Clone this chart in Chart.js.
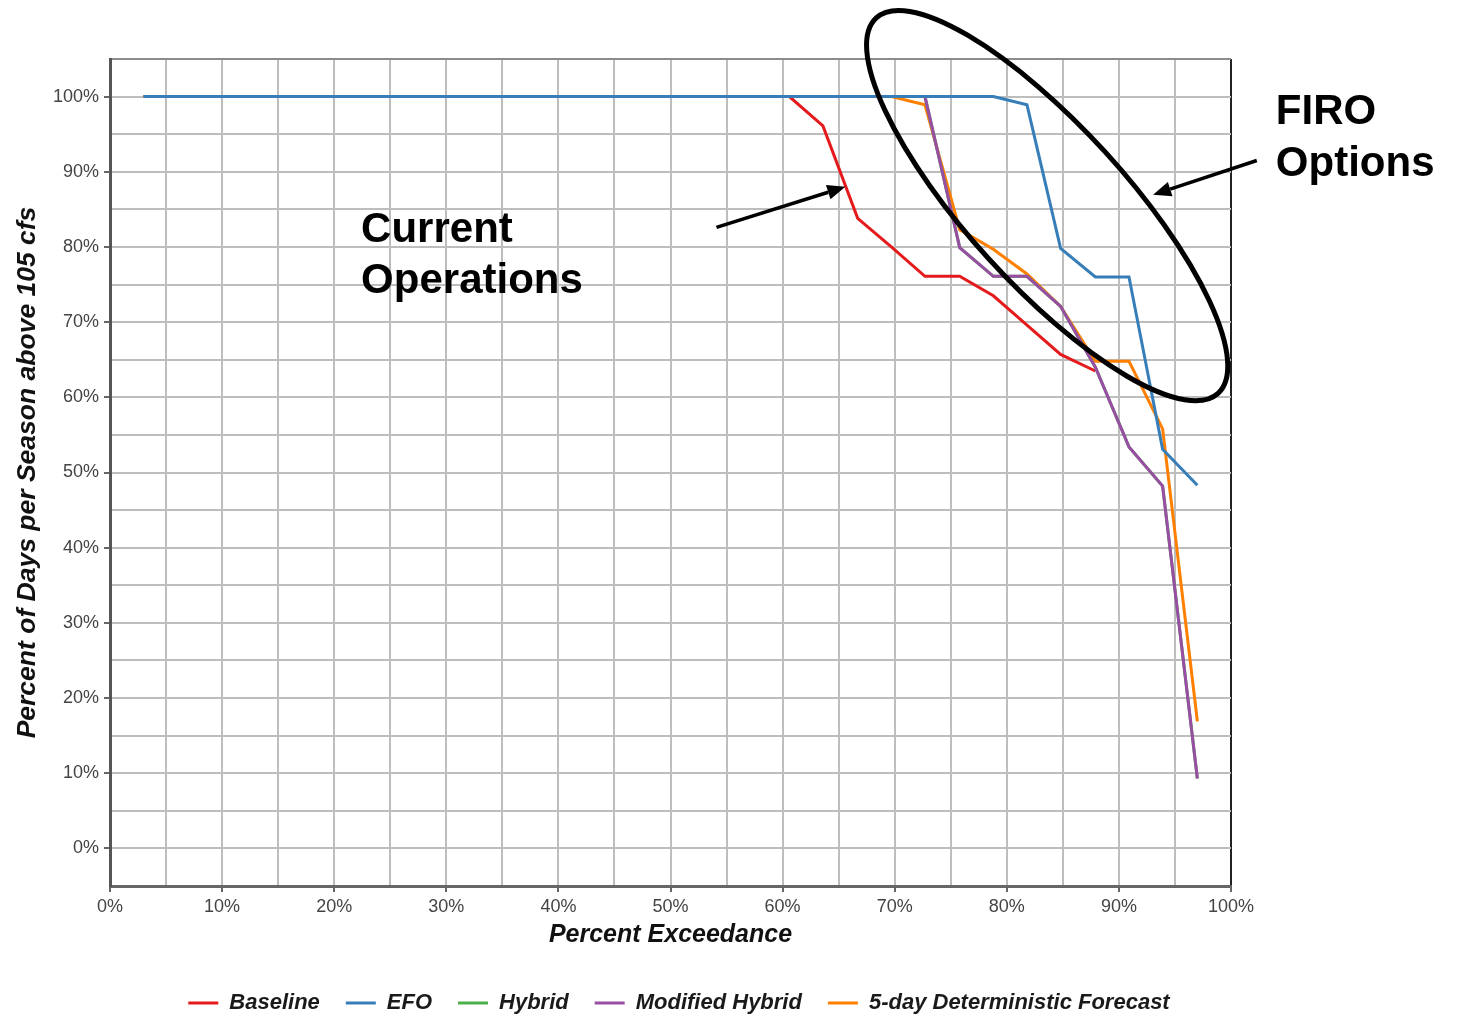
<!DOCTYPE html>
<html>
<head>
<meta charset="utf-8">
<script src="https://cdn.jsdelivr.net/npm/chart.js@4.4.1/dist/chart.umd.min.js"></script>
<style>
html,body{margin:0;padding:0;background:#fff;}
#wrap{width:1460px;height:1015px;position:relative;}
canvas{display:block;}
</style>
</head>
<body>
<div id="wrap"><canvas id="c" width="1460" height="1015"></canvas></div>
<script>
// ---- data ----
const exceedance = [3.0, 6.1, 9.1, 12.1, 15.2, 18.2, 21.2, 24.2, 27.3, 30.3, 33.3, 36.4, 39.4, 42.4, 45.5, 48.5,
                    51.5, 54.5, 57.6, 60.6, 63.6, 66.7, 69.7, 72.7, 75.8, 78.8, 81.8, 84.8, 87.9, 90.9, 93.9, 97.0];
const baseline = [100,100,100,100,100,100,100,100,100,100,100,100,100,100,100,100,
                  100,100,100,100, 96.1, 83.8, 80.0, 76.1, 76.1, 73.5, 69.6, 65.7, 63.5, null, null, null];
const efo      = [100,100,100,100,100,100,100,100,100,100,100,100,100,100,100,100,
                  100,100,100,100,100,100,100,100,100,100, 98.9, 79.8, 76.0, 76.0, 53.1, 48.3];
const hybrid   = [100,100,100,100,100,100,100,100,100,100,100,100,100,100,100,100,
                  100,100,100,100,100,100,100,100, 79.9, 76.1, 76.1, 72.1, 64.0, 53.4, 48.2, 9.3];
const modHybrid= [100,100,100,100,100,100,100,100,100,100,100,100,100,100,100,100,
                  100,100,100,100,100,100,100,100, 79.9, 76.1, 76.1, 72.1, 64.0, 53.4, 48.2, 9.3];
const fiveDay  = [100,100,100,100,100,100,100,100,100,100,100,100,100,100,100,100,
                  100,100,100,100,100,100,100, 98.9, 82.3, 79.7, 76.4, 72.1, 64.8, 64.8, 55.8, 16.9];
const seriesNames = ['Baseline', 'EFO', 'Hybrid', 'Modified Hybrid', '5-day Deterministic Forecast'];
const seriesColors = ['#e41a1c', '#377eb8', '#4daf4a', '#984ea3', '#ff7f00'];
const seriesValues = [baseline, efo, hybrid, modHybrid, fiveDay];
const drawOrder = [5, 1, 3, 2, 4];   // lower = drawn on top

// ---- annotations (in data units) ----
const annotEllipse = {x: 83.6, y: 85.5, rx: 22.65, ry: 7.05, angleDeg: 47.7};
const annotArrows = [
  {x1: 54.1, y1: 82.6, x2: 65.6, y2: 88.0},
  {x1: 102.3, y1: 91.5, x2: 93.05, y2: 86.95}
];
const annotTexts = [
  {x: 22.4, y: 80.7, text: 'Current'},
  {x: 22.4, y: 73.9, text: 'Operations'},
  {x: 104.0, y: 96.4, text: 'FIRO'},
  {x: 104.0, y: 89.5, text: 'Options'}
];

const FONT = '"Liberation Sans", Arial, Helvetica, sans-serif';

const datasets = seriesNames.map((name, k) => ({
  label: name,
  data: exceedance.map((x, i) => ({x: x, y: seriesValues[k][i]})),
  borderColor: seriesColors[k],
  backgroundColor: seriesColors[k],
  borderWidth: 3,
  pointRadius: 0,
  pointHoverRadius: 0,
  tension: 0,
  fill: false,
  spanGaps: false,
  order: drawOrder[k]
}));

const annotationPlugin = {
  id: 'annot',
  afterDraw(chart) {
    const ctx = chart.ctx;
    const xs = chart.scales.x, ys = chart.scales.y;
    const unit = xs.getPixelForValue(1) - xs.getPixelForValue(0);
    ctx.save();
    // ellipse
    ctx.beginPath();
    ctx.ellipse(xs.getPixelForValue(annotEllipse.x), ys.getPixelForValue(annotEllipse.y),
                annotEllipse.rx * unit, annotEllipse.ry * unit,
                annotEllipse.angleDeg * Math.PI / 180, 0, Math.PI * 2);
    ctx.lineWidth = 5;
    ctx.strokeStyle = '#000';
    ctx.stroke();
    // arrows
    annotArrows.forEach(a => {
      const x1 = xs.getPixelForValue(a.x1), y1 = ys.getPixelForValue(a.y1);
      const x2 = xs.getPixelForValue(a.x2), y2 = ys.getPixelForValue(a.y2);
      const ang = Math.atan2(y2 - y1, x2 - x1);
      const hl = 18, hw = 7.5;
      const bx = x2 - hl * Math.cos(ang), by = y2 - hl * Math.sin(ang);
      ctx.beginPath();
      ctx.moveTo(x1, y1);
      ctx.lineTo(bx, by);
      ctx.lineWidth = 3.5;
      ctx.strokeStyle = '#000';
      ctx.stroke();
      ctx.beginPath();
      ctx.moveTo(x2, y2);
      ctx.lineTo(bx + hw * Math.sin(ang), by - hw * Math.cos(ang));
      ctx.lineTo(bx - hw * Math.sin(ang), by + hw * Math.cos(ang));
      ctx.closePath();
      ctx.fillStyle = '#000';
      ctx.fill();
    });
    // texts
    ctx.font = 'bold 42px ' + FONT;
    ctx.fillStyle = '#000';
    ctx.textAlign = 'left';
    ctx.textBaseline = 'alphabetic';
    annotTexts.forEach(t => {
      ctx.fillText(t.text, xs.getPixelForValue(t.x), ys.getPixelForValue(t.y));
    });
    ctx.restore();
  }
};

const whiteBg = {
  id: 'whiteBg',
  beforeDraw(chart) {
    const ctx = chart.ctx;
    ctx.save();
    ctx.fillStyle = '#fff';
    ctx.fillRect(0, 0, chart.width, chart.height);
    ctx.restore();
  }
};

new Chart(document.getElementById('c'), {
  type: 'line',
  data: {datasets: datasets},
  plugins: [whiteBg, annotationPlugin],
  options: {
    responsive: false,
    animation: false,
    devicePixelRatio: 1,
    layout: {padding: {left: 0, right: 102, top: 59, bottom: -9}},
    plugins: {
      tooltip: {enabled: false},
      legend: {
        display: true,
        position: 'bottom',
        labels: {
          usePointStyle: true,
          pointStyle: 'line',
          pointStyleWidth: 30,
          boxWidth: 30,
          padding: 26,
          color: '#1a1a1a',
          font: {size: 22, weight: 'bold', style: 'italic', family: FONT},
          sort: (a, b) => a.datasetIndex - b.datasetIndex
        }
      }
    },
    scales: {
      x: {
        type: 'linear',
        min: 0, max: 100,
        afterFit: s => { s.height = 80; },
        ticks: {
          stepSize: 5, autoSkip: false, maxRotation: 0, padding: 4,
          color: '#444', font: {size: 18, family: FONT},
          callback: v => (v % 10 === 0 ? v + '%' : '')
        },
        grid: {
          color: c => (c.tick && c.tick.value === 100 ? '#222' : '#bdbdbd'),
          lineWidth: 2,
          tickLength: 6,
          tickWidth: 2,
          tickColor: c => (c.tick && c.tick.value % 10 === 0 ? '#666' : 'rgba(0,0,0,0)')
        },
        border: {display: true, color: '#666', width: 3},
        title: {
          display: true, text: 'Percent Exceedance', color: '#111',
          font: {size: 25, weight: 'bold', style: 'italic', family: FONT},
          padding: {top: 0, bottom: 16}
        }
      },
      y: {
        type: 'linear',
        position: 'left',
        min: -5, max: 105,
        afterFit: s => { s.width = 110; },
        ticks: {
          stepSize: 5, autoSkip: false, padding: 5,
          color: '#444', font: {size: 18, family: FONT},
          callback: v => ((v % 10 === 0 && v >= 0 && v <= 100) ? v + '%' : '')
        },
        grid: {
          color: c => (c.tick && c.tick.value === 105 ? '#8c8c8c' : '#bdbdbd'),
          lineWidth: 2,
          tickLength: 6,
          tickWidth: 2,
          tickColor: c => ((c.tick && c.tick.value % 10 === 0 && c.tick.value >= 0) ? '#666' : 'rgba(0,0,0,0)')
        },
        border: {display: true, color: '#555', width: 3},
        title: {
          display: true, text: 'Percent of Days per Season above 105 cfs', color: '#111',
          font: {size: 26.5, weight: 'bold', style: 'italic', family: FONT},
          padding: {top: 12, bottom: 0}
        }
      },
      yRight: {
        type: 'linear',
        position: 'right',
        min: 0, max: 1,
        display: true,
        afterFit: s => { s.width = 127; },
        ticks: {display: false},
        grid: {display: false, drawTicks: false},
        border: {display: false},
        title: {display: false}
      }
    }
  }
});
</script>
</body>
</html>
